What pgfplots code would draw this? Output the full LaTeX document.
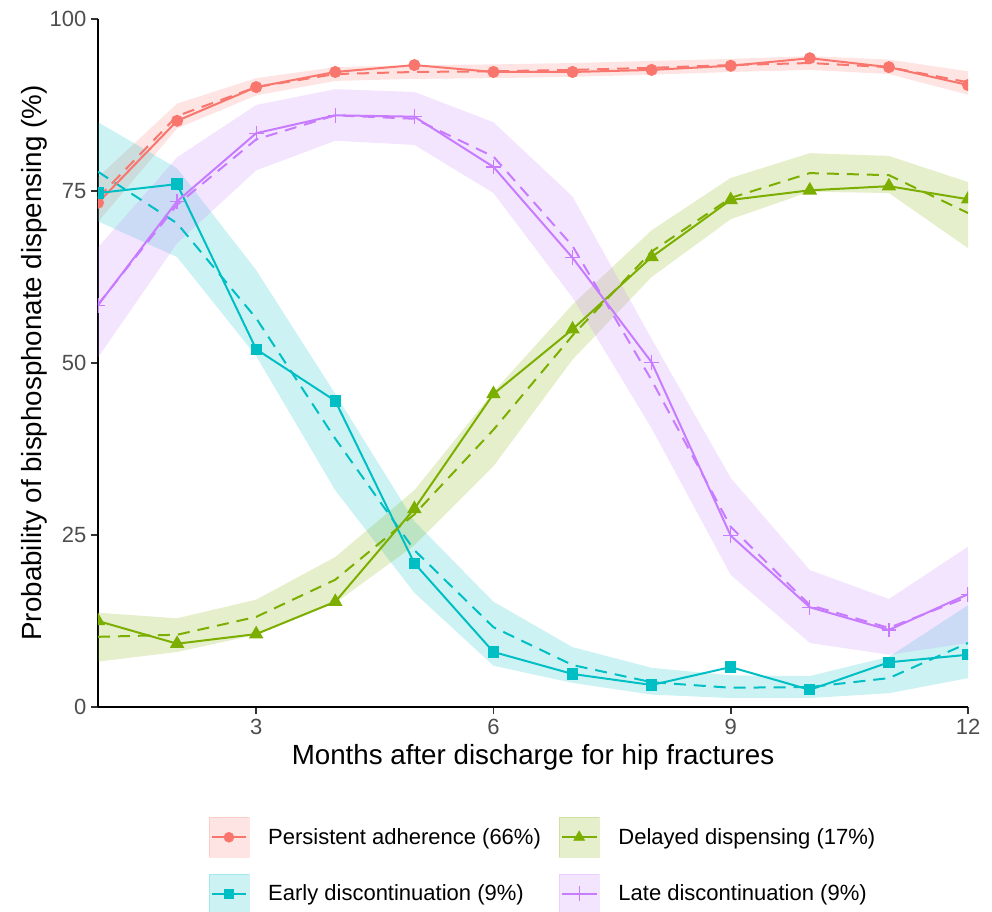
\documentclass[border=0pt]{standalone}
\usepackage{fontspec}
\setmainfont{Liberation Sans}
\usepackage{pgfplots}
\usepackage{pgfplotstable}
\pgfplotsset{compat=1.18}
\usepgfplotslibrary{fillbetween}

\definecolor{cP}{HTML}{F8766D}
\definecolor{cD}{HTML}{7CAE00}
\definecolor{cE}{HTML}{00BFC4}
\definecolor{cL}{HTML}{C77CFF}
\definecolor{gtxt}{HTML}{4D4D4D}
\definecolor{gtick}{HTML}{333333}

% Persistent adherence
\pgfplotstableread{
m obs fit lo hi
1 73.3 74.0 70.5 77.0
2 85.2 85.9 84.1 87.7
3 90.1 90.1 88.9 91.4
4 92.3 92.0 91.0 93.0
5 93.3 92.3 91.3 93.3
6 92.3 92.4 91.4 93.4
7 92.3 92.6 91.6 93.6
8 92.6 92.9 91.9 93.9
9 93.2 93.3 92.3 94.2
10 94.3 93.6 92.6 94.6
11 93.0 93.0 92.0 94.1
12 90.4 90.8 89.0 92.4
}\tabP
% Early discontinuation
\pgfplotstableread{
m obs fit lo hi
1 74.7 77.8 70.6 85.0
2 76.0 70.3 65.4 78.3
3 52.0 56.5 51.0 63.5
4 44.5 39.0 31.5 45.5
5 20.9 22.8 16.6 27.0
6 8.0 11.6 6.0 15.3
7 4.8 6.1 3.5 8.7
8 3.2 3.6 1.8 5.7
9 5.8 2.8 1.3 4.6
10 2.5 2.9 1.3 4.5
11 6.5 4.2 2.0 7.3
12 7.6 9.3 4.2 14.8
}\tabE
% Delayed dispensing
\pgfplotstableread{
m obs fit lo hi
1 12.5 10.2 6.6 13.7
2 9.2 10.5 8.0 12.9
3 10.6 13.1 10.5 15.6
4 15.3 18.5 15.1 21.8
5 28.8 28.0 23.5 31.5
6 45.5 40.3 35.0 45.8
7 54.9 54.0 50.5 58.5
8 65.4 66.2 62.5 69.3
9 73.7 74.0 70.9 76.9
10 75.1 77.6 74.9 80.5
11 75.7 77.3 74.7 80.1
12 73.8 71.8 66.7 76.3
}\tabD
% Late discontinuation
\pgfplotstableread{
m obs fit lo hi
1 58.4 58.5 50.8 66.8
2 73.5 73.0 67.4 79.9
3 83.4 82.5 78.0 87.5
4 86.0 86.0 82.3 89.8
5 85.8 85.5 81.7 89.4
6 78.5 80.0 74.7 85.0
7 65.3 67.0 59.5 74.2
8 50.1 47.5 40.5 53.5
9 24.9 26.2 19.2 33.3
10 14.5 14.8 9.3 19.9
11 11.2 11.5 7.6 15.7
12 16.4 16.0 9.3 23.3
}\tabL

\pgfplotsset{
  keyimg/.style n args={2}{legend image code/.code={
    \fill[#1, opacity=0.2] (0pt,-15pt) rectangle (30pt,15pt);
    \draw[#1, line width=1.5pt] (2pt,0pt) -- (28pt,0pt);
    \draw[#1, fill=#1, #2] plot coordinates {(15pt,0pt)};
  }},
}

\begin{document}
\begin{tikzpicture}
\begin{axis}[
  at={(0,0)}, anchor=south west,
  width=652.5pt, height=516pt, scale only axis,
  xmin=1, xmax=12, ymin=0, ymax=100,
  xtick={3,6,9,12}, ytick={0,25,50,75,100},
  axis x line*=bottom, axis y line*=left,
  axis line style={line width=1.6pt, black, -},
  tick align=outside, major tick length=5.25pt,
  tick style={line width=1.2pt, color=gtick},
  ticklabel style={font=\fontsize{16.5}{18}\selectfont, text=gtxt},
  /pgf/number format/assume math mode=true,
  xlabel={Months after discharge for hip fractures},
  ylabel={Probability of bisphosphonate dispensing (\%)},
  every axis x label/.style={at={(rel axis cs:0.5,-0.0727)}, anchor=center, font=\fontsize{20.8}{24}\selectfont},
  every axis y label/.style={at={(rel axis cs:-0.0736,0.5)}, anchor=center, rotate=90, font=\fontsize{20.8}{24}\selectfont},
  clip marker paths=true,
  legend columns=2,
  legend cell align=left,
  legend style={
    at={(rel axis cs:0.5103,-0.1599)}, anchor=north,
    draw=none, fill=none, inner sep=0pt, outer sep=0pt,
    font=\fontsize{16.5}{18}\selectfont,
    row sep=12pt,
    nodes={inner xsep=0pt, inner ysep=0pt},
    /tikz/every odd column/.append style={column sep=14.25pt},
    /tikz/every even column/.append style={column sep=13.5pt},
  },
]
% ribbons
\addplot[name path=Phi, draw=none, forget plot] table[x=m,y=hi]{\tabP};
\addplot[name path=Plo, draw=none, forget plot] table[x=m,y=lo]{\tabP};
\addplot[fill=cP, fill opacity=0.2, draw=none, forget plot] fill between[of=Phi and Plo];
\addplot[name path=Ehi, draw=none, forget plot] table[x=m,y=hi]{\tabE};
\addplot[name path=Elo, draw=none, forget plot] table[x=m,y=lo]{\tabE};
\addplot[fill=cE, fill opacity=0.2, draw=none, forget plot] fill between[of=Ehi and Elo];
\addplot[name path=Dhi, draw=none, forget plot] table[x=m,y=hi]{\tabD};
\addplot[name path=Dlo, draw=none, forget plot] table[x=m,y=lo]{\tabD};
\addplot[fill=cD, fill opacity=0.2, draw=none, forget plot] fill between[of=Dhi and Dlo];
\addplot[name path=Lhi, draw=none, forget plot] table[x=m,y=hi]{\tabL};
\addplot[name path=Llo, draw=none, forget plot] table[x=m,y=lo]{\tabL};
\addplot[fill=cL, fill opacity=0.2, draw=none, forget plot] fill between[of=Lhi and Llo];
% fitted (dashed)
\addplot[cP, line width=1.5pt, dash pattern=on 9pt off 6pt, forget plot] table[x=m,y=fit]{\tabP};
\addplot[cE, line width=1.5pt, dash pattern=on 9pt off 6pt, forget plot] table[x=m,y=fit]{\tabE};
\addplot[cD, line width=1.5pt, dash pattern=on 9pt off 6pt, forget plot] table[x=m,y=fit]{\tabD};
\addplot[cL, line width=1.5pt, dash pattern=on 9pt off 6pt, forget plot] table[x=m,y=fit]{\tabL};
% observed (solid with markers)
\addplot[cP, line width=1.5pt, mark=*, mark size=3.75pt, mark options={fill=cP}, forget plot] table[x=m,y=obs]{\tabP};
\addplot[cE, line width=1.5pt, mark=square*, mark size=3.5pt, mark options={fill=cE}, forget plot] table[x=m,y=obs]{\tabE};
\addplot[cD, line width=1.5pt, mark=triangle*, mark size=4.8pt, mark options={fill=cD}, forget plot] table[x=m,y=obs]{\tabD};
\addplot[cL, line width=1.5pt, mark=+, mark size=5.5pt, mark options={line width=1pt}, forget plot] table[x=m,y=obs]{\tabL};
% legend
\addlegendimage{keyimg={cP}{mark=*, mark size=3.75pt}}
\addlegendentry{Persistent adherence (66\%)}
\addlegendimage{keyimg={cD}{mark=triangle*, mark size=4.8pt}}
\addlegendentry{Delayed dispensing (17\%)}
\addlegendimage{keyimg={cE}{mark=square*, mark size=3.5pt}}
\addlegendentry{Early discontinuation (9\%)}
\addlegendimage{keyimg={cL}{mark=+, mark size=5.5pt, line width=1pt}}
\addlegendentry{Late discontinuation (9\%)}
\end{axis}
\pgfresetboundingbox
\useasboundingbox (-73.5pt,-153pt) rectangle (670.5pt,530.25pt);
\end{tikzpicture}
\end{document}
